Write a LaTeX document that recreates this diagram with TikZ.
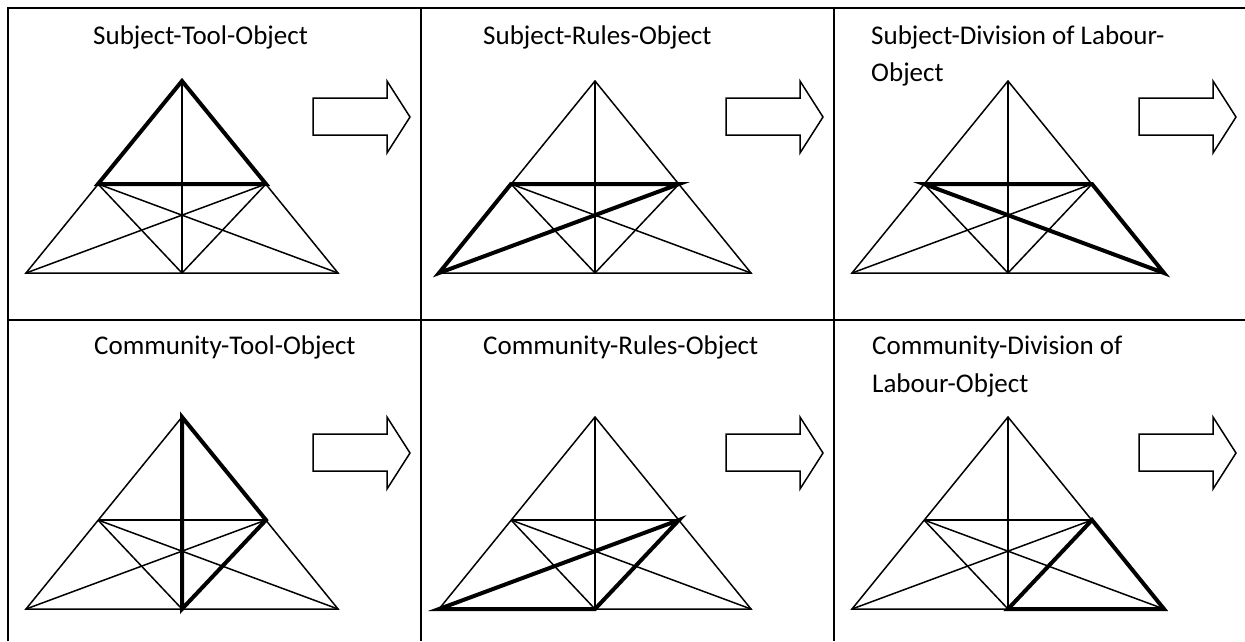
\documentclass[tikz,border=0pt]{standalone}
\usepackage{fontspec}
\setmainfont{Carlito}
\usetikzlibrary{positioning}

\begin{document}
\begin{tikzpicture}[
    x=1pt, y=-1pt,
    grid/.style={line width=2pt},
    thin/.style={line width=1.5pt},
    bold/.style={line width=4pt, line join=miter},
    title/.style={anchor=base west, inner sep=0pt, align=left, font=\fontsize{27}{37}\selectfont},
    arrowbox/.style={line width=1.5pt, fill=white}
]
    \useasboundingbox (0,0) rectangle (1245,641);
    % table lines
    \draw[grid] (8,641) -- (8,8) -- (1245,8);
    \draw[grid] (421,8) -- (421,641);
    \draw[grid] (834,8) -- (834,641);
    \draw[grid] (8,320) -- (1245,320);
    % titles (base anchor sits on the last line)
    \node[title] (t1) at (93,44) {Subject-Tool-Object};
    \node[title] (t2) at (483,44) {Subject-Rules-Object};
    \node[title] (t3) at (871,81) {Subject-Division of Labour-\\Object};
    \node[title] (t4) at (94,354) {Community-Tool-Object};
    \node[title] (t5) at (483,354) {Community-Rules-Object};
    \node[title, font=\fontsize{27}{38}\selectfont] (t6) at (872,392) {Community-Division of\\Labour-Object};
    % one triangle per cell, bold sub-triangle given by three corners
    \foreach \ox/\oy/\ba/\bb/\bc in {0/0/A/P/Q, 413/0/L/P/Q, 826/0/P/Q/R,
                                      0/336/A/M/Q, 413/336/L/M/Q, 826/336/M/Q/R} {
        \begin{scope}[shift={(\ox,\oy)}]
            \coordinate (A) at (182,81);
            \coordinate (L) at (26,273);
            \coordinate (R) at (338,273);
            \coordinate (M) at (182,273);
            \coordinate (P) at (98,184);
            \coordinate (Q) at (266,184);
            \draw[thin] (A) -- (L) -- (R) -- cycle;
            \draw[thin] (A) -- (M);
            \draw[thin] (P) -- (Q);
            \draw[thin] (P) -- (M) -- (Q);
            \draw[thin] (P) -- (R);
            \draw[thin] (Q) -- (L);
            \draw[bold] (\ba) -- (\bb) -- (\bc) -- cycle;
            % block arrow
            \draw[arrowbox] (313,98) -- (387,98) -- (387,81) -- (410,117)
                -- (387,153) -- (387,135) -- (313,135) -- cycle;
        \end{scope}
    }
\end{tikzpicture}
\end{document}
